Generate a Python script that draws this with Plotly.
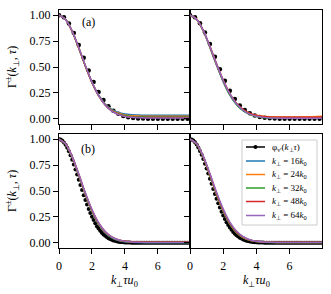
import plotly.graph_objects as go

# ---------------- data ----------------
x_col = [0.0, 0.4, 0.8, 1.2, 1.6, 2.0, 2.4, 2.8, 3.2, 3.6, 4.0, 4.4, 4.8, 5.2,
         5.6, 6.0, 6.4, 6.8, 7.2, 7.6, 8.0]

# panel (a) top-left
a_blue   = [1, 0.958, 0.843, 0.682, 0.509, 0.352, 0.230, 0.144, 0.091, 0.061, 0.047, 0.040, 0.037, 0.035, 0.035, 0.035, 0.035, 0.034, 0.034, 0.034, 0.034]
a_orange = [1, 0.959, 0.844, 0.682, 0.509, 0.351, 0.226, 0.139, 0.084, 0.053, 0.038, 0.030, 0.027, 0.025, 0.025, 0.025, 0.025, 0.025, 0.025, 0.025, 0.025]
a_green  = [1, 0.959, 0.844, 0.684, 0.510, 0.351, 0.225, 0.136, 0.080, 0.047, 0.031, 0.023, 0.020, 0.019, 0.018, 0.018, 0.018, 0.018, 0.018, 0.018, 0.018]
a_red    = [1, 0.959, 0.845, 0.685, 0.511, 0.352, 0.224, 0.134, 0.076, 0.044, 0.026, 0.018, 0.014, 0.013, 0.012, 0.012, 0.012, 0.012, 0.012, 0.012, 0.012]
a_purple = [1, 0.959, 0.846, 0.688, 0.514, 0.354, 0.226, 0.134, 0.075, 0.041, 0.023, 0.014, 0.010, 0.009, 0.008, 0.008, 0.008, 0.008, 0.008, 0.008, 0.008]

# top-right
tr_blue   = [1, 0.960, 0.847, 0.689, 0.516, 0.357, 0.229, 0.137, 0.079, 0.045, 0.027, 0.018, 0.014, 0.013, 0.012, 0.012, 0.012, 0.012, 0.012, 0.012, 0.012]
tr_orange = [1, 0.961, 0.850, 0.694, 0.524, 0.366, 0.238, 0.146, 0.087, 0.052, 0.034, 0.024, 0.020, 0.019, 0.018, 0.018, 0.018, 0.019, 0.020, 0.022, 0.025]
tr_green  = [1, 0.960, 0.850, 0.693, 0.522, 0.363, 0.233, 0.139, 0.078, 0.042, 0.023, 0.013, 0.009, 0.007, 0.006, 0.006, 0.006, 0.006, 0.006, 0.006, 0.006]
tr_red    = [1, 0.961, 0.852, 0.699, 0.530, 0.373, 0.244, 0.150, 0.088, 0.051, 0.032, 0.022, 0.018, 0.016, 0.015, 0.015, 0.015, 0.015, 0.015, 0.016, 0.017]
tr_purple = [1, 0.961, 0.853, 0.700, 0.530, 0.372, 0.242, 0.146, 0.083, 0.045, 0.024, 0.014, 0.009, 0.007, 0.006, 0.006, 0.006, 0.006, 0.006, 0.006, 0.006]

# panel (b) bottom-left
b_blue   = [1, 0.953, 0.825, 0.647, 0.462, 0.300, 0.178, 0.096, 0.048, 0.023, 0.011, 0.006, 0.004, 0.003, 0.003, 0.003, 0.003, 0.003, 0.003, 0.003, 0.003]
b_orange = [1, 0.954, 0.828, 0.653, 0.469, 0.307, 0.184, 0.102, 0.052, 0.026, 0.014, 0.008, 0.006, 0.005, 0.005, 0.005, 0.005, 0.005, 0.005, 0.005, 0.005]
b_green  = [1, 0.954, 0.830, 0.656, 0.473, 0.311, 0.187, 0.104, 0.053, 0.026, 0.013, 0.007, 0.005, 0.004, 0.004, 0.004, 0.004, 0.004, 0.004, 0.004, 0.004]
b_red    = [1, 0.955, 0.832, 0.661, 0.479, 0.318, 0.193, 0.108, 0.057, 0.029, 0.016, 0.010, 0.007, 0.006, 0.006, 0.006, 0.006, 0.006, 0.006, 0.006, 0.006]
b_purple = [1, 0.955, 0.834, 0.664, 0.483, 0.322, 0.196, 0.110, 0.058, 0.029, 0.014, 0.008, 0.005, 0.004, 0.004, 0.004, 0.004, 0.004, 0.004, 0.004, 0.004]

# bottom-right
br_blue   = [1, 0.953, 0.825, 0.648, 0.463, 0.302, 0.180, 0.098, 0.051, 0.026, 0.014, 0.009, 0.007, 0.006, 0.006, 0.006, 0.006, 0.006, 0.006, 0.006, 0.006]
br_orange = [1, 0.954, 0.828, 0.652, 0.468, 0.307, 0.183, 0.101, 0.051, 0.025, 0.013, 0.007, 0.005, 0.004, 0.004, 0.004, 0.004, 0.004, 0.004, 0.004, 0.004]
br_green  = [1, 0.954, 0.829, 0.656, 0.473, 0.310, 0.186, 0.103, 0.052, 0.025, 0.012, 0.006, 0.004, 0.003, 0.003, 0.003, 0.003, 0.003, 0.003, 0.003, 0.003]
br_red    = [1, 0.955, 0.832, 0.661, 0.479, 0.317, 0.192, 0.108, 0.056, 0.028, 0.015, 0.009, 0.006, 0.005, 0.005, 0.005, 0.005, 0.005, 0.005, 0.005, 0.005]
br_purple = [1, 0.956, 0.836, 0.668, 0.488, 0.327, 0.200, 0.114, 0.060, 0.030, 0.015, 0.008, 0.005, 0.004, 0.004, 0.004, 0.004, 0.004, 0.004, 0.004, 0.004]

# black reference curves phi_v'
x_top_phi = [0.0, 0.3, 0.6, 0.9, 1.2, 1.5, 1.8, 2.1, 2.4, 2.7, 3.0, 3.3, 3.6, 3.9,
             4.2, 4.5, 4.8, 5.1, 5.4, 5.7, 6.0, 6.3, 6.6, 6.9, 7.2, 7.5, 7.8]
a_phi  = [1.0, 0.979, 0.919, 0.827, 0.713, 0.590, 0.467, 0.355, 0.259, 0.181, 0.121, 0.078, 0.048, 0.028,
          0.016, 0.009, 0.004, 0.002, 0.001, 0.0, 0.0, 0.0, 0.0, 0.0, 0.0, 0.0, 0.0]
tr_phi = [1.0, 0.980, 0.921, 0.832, 0.721, 0.600, 0.479, 0.367, 0.270, 0.191, 0.129, 0.084, 0.053, 0.032,
          0.018, 0.010, 0.005, 0.003, 0.001, 0.0, 0.0, 0.0, 0.0, 0.0, 0.0, 0.0, 0.0]

x_bot_phi = [0.0, 0.1, 0.2, 0.3, 0.4, 0.5, 0.6, 0.7, 0.8, 0.9, 1.0, 1.1, 1.2, 1.3, 1.4, 1.5, 1.6, 1.7, 1.8, 1.9,
             2.0, 2.1, 2.2, 2.3, 2.4, 2.5, 2.6, 2.7, 2.8, 2.9, 3.0, 3.1, 3.2, 3.3, 3.4, 3.5, 3.6, 3.7, 3.8, 3.9,
             4.0, 4.1, 4.2, 4.3, 4.4, 4.5, 4.6, 4.7, 4.8, 4.9, 5.0, 5.1, 5.2, 5.3, 5.4, 5.5, 5.6, 5.7, 5.8, 5.9,
             6.0, 6.1, 6.2, 6.3, 6.4, 6.5, 6.6, 6.7, 6.8, 6.9, 7.0, 7.1, 7.2, 7.3, 7.4, 7.5, 7.6, 7.7, 7.8, 7.9]
b_phi  = [1.000, 0.997, 0.986, 0.969, 0.946, 0.917, 0.883, 0.845, 0.802, 0.756, 0.708, 0.659, 0.609, 0.558, 0.509, 0.460, 0.414, 0.369, 0.327, 0.288,
          0.252, 0.219, 0.188, 0.161, 0.137, 0.116, 0.097, 0.081, 0.067, 0.055, 0.045, 0.036, 0.029, 0.023, 0.019, 0.015, 0.011, 0.009, 0.007, 0.005,
          0.004, 0.003, 0.002, 0.002, 0.001, 0.001, 0.0, 0.0, 0.0, 0.0, 0.0, 0.0, 0.0, 0.0, 0.0, 0.0, 0.0, 0.0, 0.0, 0.0,
          0.0, 0.0, 0.0, 0.0, 0.0, 0.0, 0.0, 0.0, 0.0, 0.0, 0.0, 0.0, 0.0, 0.0, 0.0, 0.0, 0.0, 0.0, 0.0, 0.0]
br_phi = [1.000, 0.997, 0.987, 0.970, 0.948, 0.920, 0.887, 0.849, 0.808, 0.763, 0.717, 0.668, 0.619, 0.569, 0.520, 0.472, 0.426, 0.382, 0.340, 0.300,
          0.264, 0.230, 0.199, 0.171, 0.147, 0.125, 0.105, 0.088, 0.073, 0.061, 0.050, 0.041, 0.033, 0.027, 0.021, 0.017, 0.013, 0.010, 0.008, 0.006,
          0.005, 0.004, 0.003, 0.002, 0.002, 0.001, 0.001, 0.0, 0.0, 0.0, 0.0, 0.0, 0.0, 0.0, 0.0, 0.0, 0.0, 0.0, 0.0, 0.0,
          0.0, 0.0, 0.0, 0.0, 0.0, 0.0, 0.0, 0.0, 0.0, 0.0, 0.0, 0.0, 0.0, 0.0, 0.0, 0.0, 0.0, 0.0, 0.0, 0.0]

legend_labels = ["φ<sub>v'</sub>(<i>k</i><sub>⊥</sub><i>τ</i>)",
                 "<i>k</i><sub>⊥</sub> = 16<i>k</i><sub>0</sub>",
                 "<i>k</i><sub>⊥</sub> = 24<i>k</i><sub>0</sub>",
                 "<i>k</i><sub>⊥</sub> = 32<i>k</i><sub>0</sub>",
                 "<i>k</i><sub>⊥</sub> = 48<i>k</i><sub>0</sub>",
                 "<i>k</i><sub>⊥</sub> = 64<i>k</i><sub>0</sub>"]
colors = ["#1f77b4", "#ff7f0e", "#2ca02c", "#d62728", "#9467bd"]
x_ticks = [0, 2, 4, 6]
y_ticks = [0.0, 0.25, 0.5, 0.75, 1.0]

panels = [
    ("x", "y", x_top_phi, a_phi, [a_blue, a_orange, a_green, a_red, a_purple], 4.5),
    ("x2", "y2", x_top_phi, tr_phi, [tr_blue, tr_orange, tr_green, tr_red, tr_purple], 4.5),
    ("x3", "y3", x_bot_phi, b_phi, [b_blue, b_orange, b_green, b_red, b_purple], 4),
    ("x4", "y4", x_bot_phi, br_phi, [br_blue, br_orange, br_green, br_red, br_purple], 4),
]

fig = go.Figure()
SERIF = "Liberation Serif"

for i, (xa, ya, xp, yp, cols, ms) in enumerate(panels):
    fig.add_trace(go.Scatter(x=xp, y=yp, mode="markers", xaxis=xa, yaxis=ya,
                             marker=dict(color="black", size=ms), showlegend=False,
                             hoverinfo="skip"))
    for j, ys in enumerate(cols):
        fig.add_trace(go.Scatter(x=x_col, y=ys, mode="lines", xaxis=xa, yaxis=ya,
                                 line=dict(color=colors[j], width=1.5, shape="spline", smoothing=0.8),
                                 showlegend=False))

W, H = 331, 294
px = lambda X: X / W
py = lambda Y: 1 - Y / H

xl = [px(59), px(190)]
xr = [px(190), px(322)]
yt = [py(124), py(10)]
yb = [py(248), py(134)]

def xax(dom, anchor, labels):
    return dict(domain=dom, anchor=anchor, range=[0, 7.95], tickvals=x_ticks,
                showticklabels=labels, ticks="outside", ticklen=5, tickcolor="black",
                ticklabelstandoff=2,
                showline=True, mirror=True, linecolor="black", linewidth=1,
                showgrid=False, zeroline=False, automargin=False,
                tickfont=dict(family=SERIF, size=12, color="black"))

def yax(dom, anchor, labels):
    return dict(domain=dom, anchor=anchor, range=[-0.05, 1.05], tickvals=y_ticks,
                tickformat=".2f", showticklabels=labels, ticks="outside", ticklen=5,
                tickcolor="black", showline=True, mirror=True, linecolor="black",
                linewidth=1, showgrid=False, zeroline=False, automargin=False,
                tickfont=dict(family=SERIF, size=12, color="black"))

ytitle = "Γ<sup>±</sup>(<i>k</i><sub>⊥</sub>, <i>τ</i>)"
xtitle = "<i>k</i><sub>⊥</sub><i>τu</i><sub>0</sub>"

annotations = [
    dict(text=ytitle, x=px(12), y=py(67), xref="paper", yref="paper", xanchor="center",
         yanchor="middle", textangle=-90, showarrow=False, font=dict(size=12)),
    dict(text=ytitle, x=px(12), y=py(191), xref="paper", yref="paper", xanchor="center",
         yanchor="middle", textangle=-90, showarrow=False, font=dict(size=12)),
    dict(text=xtitle, x=px(124.5), y=py(281), xref="paper", yref="paper", xanchor="center",
         yanchor="middle", showarrow=False, font=dict(size=12)),
    dict(text=xtitle, x=px(256), y=py(281), xref="paper", yref="paper", xanchor="center",
         yanchor="middle", showarrow=False, font=dict(size=12)),
    dict(text="(a)", x=1.77, y=0.93, xref="x", yref="y", xanchor="center", yanchor="middle",
         showarrow=False, font=dict(size=12)),
    dict(text="(b)", x=1.77, y=0.91, xref="x3", yref="y3", xanchor="center", yanchor="middle",
         showarrow=False, font=dict(size=12)),
]

# legend box (drawn in paper space inside the bottom-right panel)
shapes = [dict(type="rect", xref="paper", yref="paper", x0=px(242), x1=px(317),
               y0=py(225), y1=py(140), line=dict(color="#cccccc", width=1),
               fillcolor="rgba(255,255,255,0.85)", layer="above")]
row_y = [147, 161, 174.5, 188, 201.5, 215.5]
leg_colors = ["black"] + colors
for r, (lab, c) in enumerate(zip(legend_labels, leg_colors)):
    shapes.append(dict(type="line", xref="paper", yref="paper", x0=px(246), x1=px(265),
                       y0=py(row_y[r]), y1=py(row_y[r]), line=dict(color=c, width=1.5),
                       layer="above"))
    annotations.append(dict(text=lab, x=px(270), y=py(row_y[r]), xref="paper", yref="paper",
                            xanchor="left", yanchor="middle", showarrow=False,
                            font=dict(size=9)))
shapes.append(dict(type="circle", xref="paper", yref="paper", x0=px(253.5), x1=px(257.5),
                   y0=py(row_y[0] + 2), y1=py(row_y[0] - 2), fillcolor="black",
                   line=dict(color="black", width=0), layer="above"))

fig.update_layout(
    template="none",
    width=W, height=H, margin=dict(l=0, r=0, t=0, b=0, autoexpand=False),
    paper_bgcolor="white", plot_bgcolor="white",
    font=dict(family=SERIF, size=12, color="black"),
    showlegend=False,
    xaxis=xax(xl, "y", False), yaxis=yax(yt, "x", True),
    xaxis2=xax(xr, "y2", False), yaxis2=yax(yt, "x2", False),
    xaxis3=xax(xl, "y3", True), yaxis3=yax(yb, "x3", True),
    xaxis4=xax(xr, "y4", True), yaxis4=yax(yb, "x4", False),
    annotations=annotations, shapes=shapes,
)

fig.write_html("out.html", config={"displayModeBar": False},
               post_script="document.body.style.margin='0';document.body.style.overflow='hidden';")
